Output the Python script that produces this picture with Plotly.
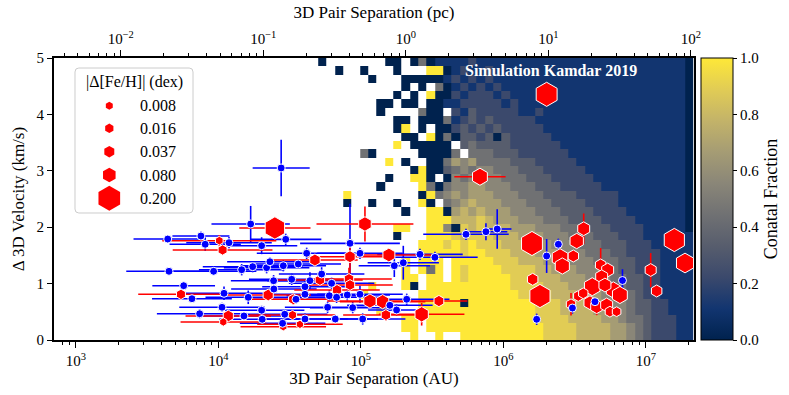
import numpy as np
import plotly.graph_objects as go

AU_PER_PC = 206265.0

# Simulated conatal fraction, one string per velocity bin (top bin first),
# one character per separation bin: '.' = no pairs, '0'..'9' -> fraction 0..1
sim_rows = [
    "0.... ...00 .0401 11121 11111 11111 11111 11111 11110",
    "..0.. 0...0 ...99 01211 21111 11111 11111 11111 11110",
    "..... .0... 00000 12121 21111 11111 11111 11111 11110",
    "..... ..... 0.0.4 01212 12111 11111 11111 11111 11110",
    "..... ....0 .0.90 02122 21211 11111 11111 11111 11110",
    "..... ..00. 00.00 11222 22121 11111 11111 11111 11110",
    "..... ..0.. ..400 .2132 22221 12111 11111 11111 11110",
    "..... ....0 0.000 41232 32222 21111 11111 11111 11110",
    "..... ....0 9.0.0 02323 23222 22111 11111 11111 11110",
    "..... ..... 00.90 40332 30322 22211 11111 11111 11110",
    "..... ....9 .0000 0.343 33322 22221 11111 11111 11110",
    "..... 40... ..000 04.44 43332 22222 11111 11111 11110",
    "..... ...9. 0..00 46564 44433 32222 21111 11111 11110",
    "..... ..... .0900 34545 54443 33222 22111 11111 11110",
    "..... ...0. .990. 05455 55444 33322 22211 11111 11110",
    "..... ..0.. ..940 45566 55544 43332 22221 11111 11110",
    "...9. ..... ..094 56566 65554 44333 32222 21111 11110",
    "...0. .0..0 ..90. 45676 66555 44433 33222 21111 11110",
    "..... ..... 0..99 06767 66655 54443 33322 22111 11110",
    "..... ..... ...99 97778 76665 55444 33332 22211 11110",
    "..... ....9 9..99 50878 77766 65554 44333 22221 11110",
    "..... ....0 ...99 98788 87776 66555 44433 32221 11111",
    "..... ..... ..999 89898 88777 66655 54443 33222 11111",
    "..... ..... ..999 99899 88877 76665 55444 33222 21111",
    "..... ..... 9.999 .9999 98887 77665 55544 43322 21111",
    "..... ..... 9.949 .9899 99888 87766 65554 43322 21111",
    "..... ..... 99.99 .9899 99988 87776 66555 44332 21111",
    "..... .9... 90.99 99999 99988 88777 66655 44332 21111",
    "..... 9.... ..999 99999 99998 88877 76665 54432 21111",
    "..... ..... ..999 99099 99999 98887 77666 55433 22111",
    "..... ..9.. ..999 99999 99999 98887 77766 55433 22111",
    "..... ..... 99.99 99999 99999 98888 77776 65443 22211",
    "..... ..... 99.99 99999 99999 99888 87777 66543 22211",
    "..... ..... .9..9 ..999 99999 99888 87777 66543 22211",
]
sim_log_sep_lo = 4.700   # log10(AU) of first bin edge
sim_log_sep_hi = 7.332   # log10(AU) of last bin edge
sim_dv_max = 5.0

# observed pairs without metallicity: log10 separation (AU), dv (km/s), errors
blue_log_sep = [4.44, 4.226, 3.644, 3.877, 3.907, 4.074, 4.303, 3.653, 3.966, 4.163,
                4.24, 4.338, 4.387, 3.756, 4.039, 3.814, 4.209, 4.025, 3.868, 4.179,
                4.303, 4.307, 4.361, 4.472, 4.619, 4.923, 4.993, 4.455, 4.56, 4.724,
                4.514, 4.642, 4.794, 4.389, 4.607, 4.607, 4.778, 4.993, 4.904, 4.829,
                4.544, 4.766, 4.942, 5.203, 4.465, 4.607, 4.82, 5.012, 4.45, 5.234,
                5.297, 5.414, 5.519, 5.321, 5.25, 5.737, 5.877, 5.956, 6.385, 6.303,
                6.233, 6.484, 6.642, 6.835]
blue_dv = [3.05, 2.057, 1.79, 1.844, 1.697, 1.725, 1.672, 1.218, 1.218, 1.246,
           1.30, 1.282, 1.051, 0.963, 0.828, 0.732, 0.757, 0.58, 0.466, 0.426,
           0.527, 0.367, 1.388, 1.785, 1.537, 1.714, 1.537, 1.317, 1.347, 1.17,
           1.076, 1.051, 1.005, 0.904, 0.945, 0.81, 0.785, 0.81, 0.798, 0.757,
           0.722, 0.58, 0.573, 0.615, 0.456, 0.372, 0.372, 0.372, 0.296, 1.317,
           1.37, 1.519, 1.466, 0.722, 0.532, 1.874, 1.92, 1.968, 1.697, 1.489,
           0.367, 0.567, 0.679, 1.055]
blue_sep_err = [0.2, 0.275, 0.24, 0.2, 0.25, 0.3, 0.25, 0.3, 0.3, 0.3,
                0.35, 0.3, 0.3, 0.22, 0.3, 0.28, 0.3, 0.3, 0.3, 0.3,
                0.3, 0.3, 0.3, 0.25, 0.35, 0.35, 0.3, 0.3, 0.3, 0.3,
                0.3, 0.3, 0.3, 0.3, 0.3, 0.3, 0.3, 0.3, 0.3, 0.3,
                0.3, 0.3, 0.3, 0.3, 0.3, 0.3, 0.3, 0.3, 0.3, 0.25,
                0.25, 0.3, 0.3, 0.3, 0.2, 0.3, 0.15, 0.1, 0.02, 0.03,
                0.02, 0.02, 0.02, 0.02]
blue_dv_err = [0.5, 0.32, 0.05, 0.08, 0.12, 0.1, 0.15, 0.06, 0.05, 0.1,
               0.1, 0.1, 0.1, 0.05, 0.12, 0.06, 0.12, 0.08, 0.08, 0.05,
               0.08, 0.06, 0.08, 0.1, 0.1, 0.7, 0.1, 0.1, 0.08, 0.12,
               0.1, 0.15, 0.1, 0.08, 0.1, 0.1, 0.1, 0.15, 0.1, 0.1,
               0.08, 0.1, 0.1, 0.1, 0.06, 0.1, 0.06, 0.1, 0.05, 0.2,
               0.3, 0.1, 0.1, 0.1, 0.1, 0.1, 0.15, 0.35, 0.1, 0.3,
               0.1, 0.1, 0.05, 0.2]

# observed pairs with metallicity difference
red_log_sep = [4.396, 4.006, 4.029, 3.737, 4.349, 4.069, 4.034, 5.028, 4.677, 4.923,
               5.196, 4.712, 4.916, 4.525, 4.832, 4.923, 5.063, 5.152, 5.175, 5.426,
               5.547, 4.52, 4.455, 4.572, 5.835, 6.303, 6.2, 6.563, 6.514, 6.49,
               6.397, 6.413, 6.205, 6.256, 6.474, 6.525, 6.682, 6.731, 6.689, 6.623,
               6.771, 6.817, 6.56, 6.607, 6.654, 6.724, 6.747, 6.794, 6.712, 7.033,
               7.075, 7.199, 7.274]
red_dv = [1.986, 1.761, 1.596, 0.81, 0.798, 0.426, 0.319, 2.057, 1.418, 1.477,
          1.507, 1.064, 1.082, 0.722, 0.887, 0.975, 0.691, 0.679, 0.443, 0.456,
          0.691, 0.443, 0.236, 0.278, 2.895, 4.356, 1.711, 1.973, 1.755, 1.489,
          1.459, 1.312, 1.076, 0.78, 0.633, 0.78, 1.33, 1.241, 1.122, 0.945,
          0.887, 0.798, 0.828, 0.661, 0.59, 0.621, 0.502, 0.502, 0.975, 1.241,
          0.869, 1.773, 1.365]
red_sep_err = [0.25, 0.4, 0.35, 0.3, 0.3, 0.3, 0.3, 0.34, 0.3, 0.3,
               0.3, 0.3, 0.3, 0.3, 0.3, 0.3, 0.3, 0.3, 0.3, 0.3,
               0.2, 0.3, 0.3, 0.3, 0.18, 0.02, 0.02, 0.02, 0.02, 0.02,
               0.02, 0.02, 0.02, 0.02, 0.02, 0.02, 0.02, 0.02, 0.02, 0.02,
               0.02, 0.02, 0.02, 0.02, 0.02, 0.02, 0.02, 0.02, 0.02, 0.02,
               0.02, 0.02, 0.02]
red_dv_err = [0.05, 0.1, 0.05, 0.05, 0.1, 0.1, 0.05, 0.31, 0.1, 0.3,
              0.1, 0.1, 0.2, 0.1, 0.1, 0.1, 0.1, 0.1, 0.1, 0.2,
              0.1, 0.05, 0.05, 0.05, 0.05, 0.05, 0.05, 0.27, 0.1, 0.05,
              0.05, 0.05, 0.05, 0.2, 0.2, 0.1, 0.3, 0.1, 0.1, 0.1,
              0.1, 0.1, 0.1, 0.1, 0.15, 0.1, 0.05, 0.05, 0.1, 0.3,
              0.05, 0.05, 0.05]
red_dfeh = [0.17, 0.012, 0.025, 0.025, 0.04, 0.04, 0.01, 0.08, 0.045, 0.045,
            0.07, 0.03, 0.03, 0.03, 0.03, 0.03, 0.075, 0.075, 0.03, 0.09,
            0.035, 0.015, 0.01, 0.01, 0.11, 0.19, 0.19, 0.07, 0.09, 0.045,
            0.12, 0.1, 0.045, 0.18, 0.03, 0.03, 0.045, 0.07, 0.07, 0.12,
            0.1, 0.11, 0.03, 0.07, 0.07, 0.07, 0.03, 0.02, 0.07, 0.055,
            0.045, 0.18, 0.14]

legend_dfeh = [0.008, 0.016, 0.037, 0.080, 0.200]
legend_labels = ['0.008', '0.016', '0.037', '0.080', '0.200']

size_scale = [8, 9.5, 11.5, 14.5, 25]   # marker size for legend_dfeh values
FONT = 'Liberation Serif'


def xerr(log_sep, err):
    lg = np.array(log_sep)
    e = np.array(err)
    return 10 ** (lg + e) - 10 ** lg, 10 ** lg - 10 ** (lg - e)


# heat map of the simulation
z = []
for row in reversed(sim_rows):
    s = row.replace(' ', '')
    assert len(s) == 45, row
    z.append([None if c == '.' else int(c) / 9 for c in s])
x_edges = 10 ** np.linspace(sim_log_sep_lo, sim_log_sep_hi, 46)
y_edges = np.linspace(0, sim_dv_max, len(sim_rows) + 1)

heat = go.Heatmap(
    z=z, x=x_edges, y=y_edges,
    colorscale='Cividis', zmin=0, zmax=1, hoverongaps=False,
    colorbar=dict(
        x=1.011, xanchor='left', y=0.5, yanchor='middle', len=1,
        thickness=32, xpad=0, ypad=0,
        outlinewidth=1, outlinecolor='black',
        tickvals=[0, 0.2, 0.4, 0.6, 0.8, 1.0],
        ticktext=['0.0', '0.2', '0.4', '0.6', '0.8', '1.0'],
        ticks='outside', ticklen=4, tickcolor='black',
        tickfont=dict(size=15, family=FONT),
        title=dict(text='Conatal Fraction', side='right', font=dict(size=18, family=FONT)),
    ),
)

bx = 10 ** np.array(blue_log_sep)
rx = 10 ** np.array(red_log_sep)
bxp, bxm = xerr(blue_log_sep, blue_sep_err)
rxp, rxm = xerr(red_log_sep, red_sep_err)

blue_bars = go.Scatter(
    x=bx, y=blue_dv, mode='markers', marker=dict(size=1, opacity=0),
    error_x=dict(type='data', array=bxp, arrayminus=bxm, color='#0000ff', thickness=1.6, width=0),
    error_y=dict(type='data', array=blue_dv_err, color='#0000ff', thickness=1.6, width=0),
    hoverinfo='skip',
)
red = go.Scatter(
    x=rx, y=red_dv, mode='markers',
    marker=dict(symbol='hexagon', size=np.interp(red_dfeh, legend_dfeh, size_scale), opacity=1,
                color='#ff0000', line=dict(color='white', width=1)),
    error_x=dict(type='data', array=rxp, arrayminus=rxm, color='#ff0000', thickness=1.6, width=0),
    error_y=dict(type='data', array=red_dv_err, color='#ff0000', thickness=1.6, width=0),
)
blue = go.Scatter(
    x=bx, y=blue_dv, mode='markers',
    marker=dict(symbol='circle', size=8, color='#0000ff', opacity=1, line=dict(color='white', width=1)),
)
top_dummy = go.Scatter(x=[None], y=[None], xaxis='x2', yaxis='y', hoverinfo='skip')

# hand-made legend drawn in plot-area fractions
leg_y = [0.8309, 0.7507, 0.6677, 0.5851, 0.5023]
legend_marks = go.Scatter(
    x=[0.0864] * 5, y=leg_y, xaxis='x3', yaxis='y3', mode='markers',
    marker=dict(symbol='hexagon', size=np.interp(legend_dfeh, legend_dfeh, size_scale), opacity=1,
                color='#ff0000', line=dict(color='#ff0000', width=0)),
    hoverinfo='skip',
)

fig = go.Figure([heat, top_dummy, blue_bars, red, blue, legend_marks])

annotations = [
    dict(text='<b>Simulation Kamdar 2019</b>', x=0.777, y=0.954, xref='paper', yref='paper',
         xanchor='center', yanchor='middle',
         showarrow=False, font=dict(size=16, color='white', family=FONT)),
    dict(text='|Δ[Fe/H]| (dex)', x=0.125, y=0.915, xref='paper', yref='paper',
         xanchor='center', yanchor='middle',
         showarrow=False, font=dict(size=16, family=FONT)),
]
for yy, lab in zip(leg_y, legend_labels):
    annotations.append(dict(text=lab, x=0.131, y=yy, xref='paper', yref='paper',
                            xanchor='left', yanchor='middle',
                            showarrow=False, font=dict(size=16, family=FONT)))

# rounded legend frame
x0, x1, y0, y1 = 0.0328, 0.2172, 0.4504, 0.9645
rx_, ry_ = 0.006, 0.014
frame = (f'M {x0 + rx_},{y0} L {x1 - rx_},{y0} Q {x1},{y0} {x1},{y0 + ry_} '
         f'L {x1},{y1 - ry_} Q {x1},{y1} {x1 - rx_},{y1} L {x0 + rx_},{y1} '
         f'Q {x0},{y1} {x0},{y1 - ry_} L {x0},{y0 + ry_} Q {x0},{y0} {x0 + rx_},{y0} Z')

minor_au = [m * 10 ** k for k in range(2, 8) for m in range(2, 10)]
minor_pc = [m * 10 ** k for k in range(-3, 3) for m in range(2, 10)]
lo, hi = 2.846, 7.337
shift = np.log10(AU_PER_PC)

fig.update_layout(
    width=789, height=395,
    margin=dict(l=54, r=95, t=58, b=55, autoexpand=False),
    paper_bgcolor='white', plot_bgcolor='white',
    showlegend=False,
    font=dict(family=FONT, size=15, color='black'),
    annotations=annotations,
    shapes=[dict(type='path', path=frame, xref='paper', yref='paper',
                 line=dict(color='#cccccc', width=1), fillcolor='white', layer='below')],
    xaxis=dict(
        type='log', range=[lo, hi], showgrid=False, zeroline=False, automargin=False,
        tickvals=[1e3, 1e4, 1e5, 1e6, 1e7],
        ticktext=['10<sup>3</sup>', '10<sup>4</sup>', '10<sup>5</sup>', '10<sup>6</sup>', '10<sup>7</sup>'],
        ticks='outside', ticklen=6, tickwidth=1.2, tickcolor='black',
        minor=dict(tickvals=minor_au, ticks='outside', ticklen=3, tickcolor='black', showgrid=False),
        showline=True, linewidth=2, linecolor='black',
        title=dict(text='3D Pair Separation (AU)', font=dict(size=17), standoff=4),
    ),
    xaxis2=dict(
        type='log', range=[lo - shift, hi - shift], overlaying='x', side='top', anchor='y',
        showgrid=False, zeroline=False, automargin=False,
        tickvals=[0.01, 0.1, 1, 10, 100],
        ticktext=['10<sup>−2</sup>', '10<sup>−1</sup>', '10<sup>0</sup>', '10<sup>1</sup>', '10<sup>2</sup>'],
        ticks='outside', ticklen=6, tickwidth=1.2, tickcolor='black',
        minor=dict(tickvals=minor_pc, ticks='outside', ticklen=3, tickcolor='black', showgrid=False),
        showline=True, linewidth=2, linecolor='black',
        title=dict(text='3D Pair Separation (pc)', font=dict(size=17), standoff=6),
    ),
    yaxis=dict(
        range=[0, 5], tickvals=[0, 1, 2, 3, 4, 5], showgrid=False, zeroline=False, automargin=False,
        ticks='outside', ticklen=5, tickwidth=1.2, tickcolor='black',
        showline=True, mirror=True, linewidth=2, linecolor='black',
        title=dict(text='Δ 3D Velocity (km/s)', font=dict(size=17), standoff=8),
    ),
    xaxis3=dict(range=[0, 1], overlaying='x', anchor='y3', visible=False),
    yaxis3=dict(range=[0, 1], overlaying='y', anchor='x3', visible=False),
)

# drop the browser's default page margin so the figure sits at the window corner
fig.write_html('out.html', config={'displayModeBar': False},
               post_script="document.body.style.margin='0';")
